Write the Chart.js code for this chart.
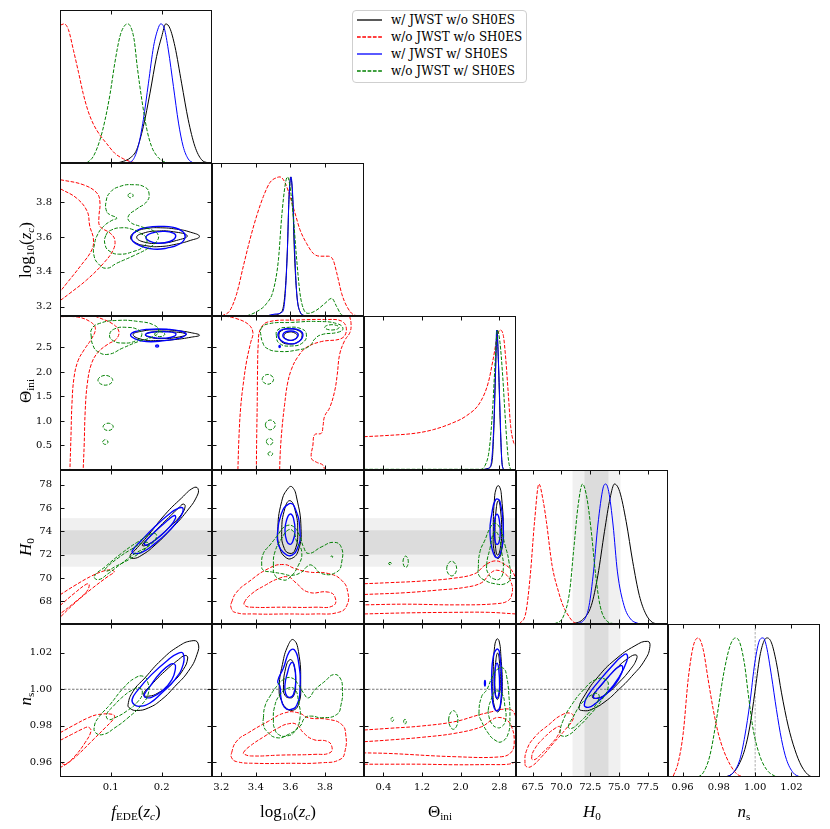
<!DOCTYPE html>
<html>
<head>
<meta charset="utf-8">
<title>Corner plot</title>
<script src="https://cdn.jsdelivr.net/npm/chart.js@4.4.1/dist/chart.umd.min.js"></script>
<style>
html,body{margin:0;padding:0;background:#fff;}
body{width:830px;height:829px;position:relative;overflow:hidden;}
canvas{position:absolute;display:block;}
.ax{position:absolute;font-family:"Liberation Serif","DejaVu Serif",serif;font-size:17px;line-height:1;white-space:nowrap;color:#000;transform:translate(-50%,-50%);}
.ax.rot{transform:translate(-50%,-50%) rotate(-90deg);}
.ax sub{font-size:0.66em;vertical-align:-0.35em;line-height:0;}
.ax i sub{font-style:italic;}
#legend{position:absolute;left:352px;top:10px;width:173px;height:71px;border:1px solid #cfcfcf;border-radius:4px;background:#fff;font-family:"DejaVu Serif",serif;font-size:12px;color:#000;}
#legend .row{position:absolute;left:0;height:16px;width:100%;}
#legend svg{position:absolute;left:4px;top:6px;}
#legend span{position:absolute;left:38px;top:0;line-height:16px;white-space:nowrap;}
</style>
</head>
<body>
<div id="legend"></div>
<script>
// ---------------- axis ranges, ticks, reference values ----------------
const RANGE_FEDE  = [0.0006, 0.2986];
const RANGE_LOGZC = [3.146, 4.027];
const RANGE_THETA = [0.0, 3.1416];
const RANGE_H0    = [66.05, 79.25];
const RANGE_NS    = [0.952, 1.0357];
const RANGE_PDF   = [0, 1.1];
const TICKS_FEDE    = [0.1, 0.2];
const TICKS_LOGZC   = [3.2, 3.4, 3.6, 3.8];
const TICKS_THETA_X = [0.4, 1.2, 2.0, 2.8];
const TICKS_THETA_Y = [0.5, 1.0, 1.5, 2.0, 2.5];
const TICKS_H0_X    = [67.5, 70.0, 72.5, 75.0, 77.5];
const TICKS_H0_Y    = [68, 70, 72, 74, 76, 78];
const TICKS_NS      = [0.96, 0.98, 1.00, 1.02];
const SH0ES_1SIG = [72.00, 74.08];
const SH0ES_2SIG = [70.96, 75.12];
const NS_REF = 1.0;
const SERIES = ['w/ JWST w/o SH0ES', 'w/o JWST w/o SH0ES', 'w/ JWST w/ SH0ES', 'w/o JWST w/ SH0ES'];
const AXIS_TITLES = ['<i>f</i><sub>EDE</sub>(<i>z<sub>c</sub></i>)', 'log<sub>10</sub>(<i>z<sub>c</sub></i>)', 'Θ<sub>ini</sub>', '<i>H</i><sub>0</sub>', '<i>n</i><sub>s</sub>'];

// ---------------- 1D marginals: [value, normalised density] ----------------
const d0_black = [[0.112,0],[0.125,0.012],[0.138,0.036],[0.151,0.096],[0.164,0.263],[0.177,0.502],[0.190,0.766],[0.200,0.909],[0.208,1.0],[0.216,0.969],[0.226,0.837],[0.239,0.574],[0.252,0.311],[0.265,0.12],[0.278,0.024],[0.291,0]];
const d0_red   = [[0.001,0.99],[0.0085,1],[0.017,0.96],[0.027,0.81],[0.037,0.65],[0.046,0.50],[0.056,0.37],[0.066,0.28],[0.079,0.20],[0.092,0.14],[0.108,0.07],[0.125,0.03],[0.144,0.005],[0.164,0]];
const d0_blue  = [[0.131,0],[0.144,0.024],[0.154,0.12],[0.164,0.311],[0.174,0.574],[0.184,0.837],[0.192,0.957],[0.198,1],[0.205,0.969],[0.213,0.813],[0.223,0.55],[0.233,0.287],[0.242,0.12],[0.252,0.029],[0.262,0]];
const d0_green = [[0.053,0],[0.066,0.048],[0.079,0.167],[0.089,0.311],[0.099,0.502],[0.108,0.718],[0.118,0.909],[0.126,0.981],[0.133,1],[0.139,0.98],[0.146,0.885],[0.152,0.694],[0.161,0.455],[0.171,0.239],[0.180,0.12],[0.190,0.053],[0.203,0.012],[0.216,0]];

const d1_black = [[3.444,0],[3.502,0.007],[3.550,0.031],[3.569,0.163],[3.583,0.476],[3.592,0.837],[3.602,1.0],[3.614,0.837],[3.623,0.476],[3.637,0.163],[3.656,0.031],[3.685,0]];
const d1_red   = [[3.202,0],[3.250,0.04],[3.289,0.16],[3.328,0.36],[3.366,0.55],[3.405,0.72],[3.444,0.86],[3.482,0.96],[3.521,0.995],[3.540,1],[3.569,0.96],[3.598,0.86],[3.627,0.74],[3.656,0.62],[3.695,0.52],[3.733,0.45],[3.772,0.43],[3.820,0.43],[3.849,0.40],[3.869,0.31],[3.898,0.16],[3.927,0.07],[3.965,0.01],[4.004,0]];
const d1_blue  = [[3.463,0],[3.511,0.014],[3.556,0.031],[3.571,0.163],[3.583,0.476],[3.592,0.837],[3.604,1.0],[3.615,0.837],[3.625,0.476],[3.637,0.163],[3.656,0.031],[3.685,0]];
const d1_green = [[3.347,0],[3.405,0.031],[3.463,0.091],[3.502,0.188],[3.531,0.404],[3.550,0.716],[3.569,0.933],[3.583,1.0],[3.598,0.933],[3.617,0.716],[3.637,0.404],[3.656,0.163],[3.675,0.055],[3.704,0.019],[3.753,0.043],[3.801,0.091],[3.840,0.127],[3.869,0.067],[3.898,0.007],[3.927,0]];

const d2_black = [[2.43,0],[2.569,0.012],[2.645,0.055],[2.687,0.317],[2.721,0.721],[2.749,1.0],[2.783,0.721],[2.817,0.317],[2.852,0.055],[2.893,0]];
const d2_red   = [[0.0,0.238],[0.40,0.245],[1.09,0.264],[1.43,0.288],[1.78,0.329],[2.12,0.388],[2.40,0.483],[2.57,0.626],[2.67,0.793],[2.76,0.96],[2.81,1.0],[2.88,0.96],[2.93,0.793],[2.98,0.555],[3.03,0.317],[3.09,0.20],[3.14,0.17]];
const d2_blue  = [[2.397,0],[2.535,0.007],[2.618,0.031],[2.673,0.245],[2.714,0.674],[2.742,1.0],[2.776,0.793],[2.810,0.436],[2.845,0.079],[2.880,0]];
const d2_green = [[0.0,0.005],[2.397,0.005],[2.500,0.031],[2.590,0.15],[2.659,0.436],[2.714,0.793],[2.755,1.0],[2.810,0.912],[2.866,0.674],[2.921,0.364],[2.976,0.102],[3.031,0.007],[3.086,0]];

const d3_black = [[70.88,0],[71.83,0.031],[72.59,0.132],[73.16,0.348],[73.73,0.659],[74.22,0.899],[74.60,1.0],[75.05,0.947],[75.62,0.731],[76.19,0.444],[76.76,0.204],[77.32,0.072],[77.89,0.012],[78.46,0]];
const d3_red   = [[66.34,0],[66.91,0.084],[67.29,0.348],[67.66,0.731],[68.04,1.0],[68.42,0.875],[68.69,0.731],[69.18,0.42],[69.75,0.228],[70.13,0.132],[70.51,0.072],[71.07,0.012],[71.64,0]];
const d3_blue  = [[71.26,0],[72.02,0.036],[72.40,0.132],[72.78,0.372],[73.16,0.707],[73.61,0.971],[73.84,1.0],[74.10,0.947],[74.48,0.707],[74.86,0.372],[75.43,0.132],[76.0,0.036],[76.76,0]];
const d3_green = [[69.37,0],[70.13,0.048],[70.70,0.228],[71.07,0.54],[71.45,0.851],[71.83,1.0],[72.21,0.899],[72.59,0.659],[72.97,0.348],[73.35,0.132],[73.91,0.024],[74.67,0]];

const d4_black = [[0.9833,0],[0.9870,0.019],[0.9906,0.079],[0.9943,0.199],[0.9971,0.366],[0.9998,0.605],[1.0026,0.868],[1.0048,0.976],[1.0066,1.0],[1.0090,0.964],[1.0117,0.821],[1.0145,0.605],[1.0182,0.366],[1.0218,0.199],[1.0255,0.079],[1.0301,0.007],[1.0328,0]];
const d4_red   = [[0.9549,0.007],[0.9576,0.103],[0.9604,0.318],[0.9631,0.701],[0.9659,0.940],[0.9686,1.0],[0.9714,0.916],[0.9741,0.701],[0.9769,0.486],[0.9796,0.318],[0.9824,0.199],[0.9861,0.091],[0.9897,0.024],[0.9934,0]];
const d4_blue  = [[0.9842,0],[0.9879,0.031],[0.9916,0.127],[0.9943,0.294],[0.9971,0.533],[0.9998,0.821],[1.0026,0.988],[1.0044,1.0],[1.0062,0.940],[1.0090,0.725],[1.0117,0.486],[1.0145,0.270],[1.0172,0.127],[1.0209,0.031],[1.0246,0]];
const d4_green = [[0.9686,0],[0.9714,0.031],[0.9750,0.151],[0.9787,0.414],[0.9824,0.725],[0.9861,0.940],[0.9892,1.0],[0.9916,0.964],[0.9943,0.797],[0.9961,0.605],[0.9989,0.342],[1.0026,0.151],[1.0062,0.055],[1.0108,0.007],[1.0136,0]];

// ---------------- 2D contours (68% / 95%) ----------------
// fEDE vs log10(zc)
const p10_black_o = [[0.139,3.600],[0.151,3.633],[0.171,3.650],[0.197,3.654],[0.229,3.646],[0.256,3.629],[0.274,3.604],[0.256,3.581],[0.229,3.560],[0.197,3.546],[0.171,3.550],[0.148,3.569]];
const p10_black_i = [[0.151,3.600],[0.164,3.623],[0.190,3.635],[0.223,3.631],[0.250,3.608],[0.229,3.581],[0.197,3.565],[0.164,3.573]];
const p10_red_o = [[0.001,3.931],[0.046,3.902],[0.073,3.854],[0.079,3.796],[0.077,3.719],[0.079,3.662],[0.099,3.623],[0.108,3.585],[0.105,3.527],[0.086,3.450],[0.053,3.354],[0.020,3.277],[0.001,3.235]];
const p10_red_i = [[0.001,3.879],[0.033,3.825],[0.054,3.748],[0.059,3.662],[0.066,3.594],[0.063,3.527],[0.040,3.431],[0.014,3.335],[0.001,3.287]];
const p10_blue_o = [[0.141,3.604],[0.151,3.638],[0.171,3.656],[0.197,3.662],[0.223,3.656],[0.241,3.633],[0.246,3.600],[0.236,3.562],[0.210,3.537],[0.184,3.531],[0.158,3.550],[0.144,3.575]];
const p10_blue_i = [[0.169,3.600],[0.180,3.623],[0.203,3.633],[0.223,3.623],[0.227,3.600],[0.216,3.575],[0.193,3.565],[0.176,3.577]];
const p10_green_o = [[0.092,3.748],[0.091,3.806],[0.099,3.858],[0.118,3.892],[0.144,3.902],[0.167,3.888],[0.175,3.854],[0.171,3.806],[0.151,3.762],[0.135,3.723],[0.137,3.690],[0.158,3.662],[0.180,3.642],[0.193,3.613],[0.190,3.575],[0.174,3.537],[0.144,3.492],[0.112,3.450],[0.092,3.421],[0.076,3.446],[0.067,3.498],[0.068,3.556],[0.074,3.613],[0.086,3.662],[0.102,3.696],[0.112,3.710],[0.099,3.729]];
const p10_green_i = [[0.091,3.613],[0.102,3.642],[0.122,3.654],[0.141,3.646],[0.158,3.623],[0.171,3.588],[0.164,3.546],[0.144,3.517],[0.118,3.502],[0.099,3.517],[0.089,3.556]];
const p10_green_j = [[0.134,3.840],[0.139,3.853],[0.144,3.840],[0.139,3.827]];

// fEDE vs Theta_ini
const p20_black_o = [[0.144,2.76],[0.160,2.83],[0.193,2.86],[0.232,2.84],[0.258,2.80],[0.274,2.75],[0.258,2.71],[0.225,2.66],[0.193,2.64],[0.163,2.66]];
const p20_black_i = [[0.168,2.76],[0.186,2.82],[0.219,2.82],[0.248,2.77],[0.232,2.71],[0.199,2.68],[0.176,2.71]];
const p20_red_o = [[0.001,3.13],[0.036,3.12],[0.062,3.01],[0.070,2.88],[0.062,2.67],[0.049,2.47],[0.036,2.23],[0.028,1.88],[0.024,1.34],[0.022,0.65],[0.020,0.0]];
const p20_red_i = [[0.069,3.14],[0.104,2.98],[0.116,2.83],[0.111,2.67],[0.095,2.57],[0.075,2.40],[0.062,2.16],[0.054,1.75],[0.050,1.20],[0.048,0.51],[0.046,0.0]];
const p20_blue_o = [[0.139,2.76],[0.150,2.83],[0.173,2.87],[0.212,2.87],[0.238,2.83],[0.248,2.77],[0.235,2.69],[0.206,2.64],[0.170,2.62],[0.147,2.68]];
const p20_blue_i = [[0.168,2.76],[0.180,2.81],[0.206,2.82],[0.227,2.79],[0.225,2.73],[0.206,2.69],[0.180,2.71]];
const p20_blue_j = [[0.188,2.53],[0.191,2.55],[0.194,2.53],[0.191,2.51]];
const p20_green_o = [[0.062,2.71],[0.063,2.88],[0.078,2.99],[0.111,3.05],[0.154,3.03],[0.186,2.95],[0.194,2.83],[0.183,2.72],[0.154,2.62],[0.124,2.49],[0.095,2.36],[0.074,2.42],[0.065,2.55]];
const p20_green_i = [[0.098,2.77],[0.108,2.88],[0.131,2.91],[0.154,2.86],[0.161,2.76],[0.150,2.64],[0.124,2.59],[0.103,2.65]];
const p20_green_j = [[0.186,2.77],[0.196,2.82],[0.206,2.77],[0.196,2.72]];
const p20_green_k = [[0.075,1.83],[0.0895,1.93],[0.104,1.83],[0.0895,1.73]];
const p20_green_l = [[0.085,0.88],[0.095,0.955],[0.105,0.88],[0.095,0.805]];
const p20_green_m = [[0.0843,0.57],[0.0895,0.618],[0.0947,0.57],[0.0895,0.522]];

// log10(zc) vs Theta_ini
const p21_black_o = [[3.534,2.74],[3.548,2.84],[3.596,2.88],[3.654,2.83],[3.668,2.74],[3.648,2.62],[3.596,2.57],[3.548,2.62]];
const p21_black_i = [[3.563,2.74],[3.586,2.81],[3.629,2.79],[3.640,2.72],[3.615,2.65],[3.577,2.67]];
const p21_red_a = [[3.296,0.0],[3.302,0.65],[3.312,1.27],[3.327,1.75],[3.347,2.23],[3.370,2.60],[3.383,2.81],[3.354,2.98],[3.277,3.10],[3.219,3.14]];
const p21_red_b = [[3.944,3.14],[3.952,2.98],[3.946,2.81],[3.915,2.64],[3.886,2.36],[3.872,1.95],[3.857,1.61],[3.828,1.27],[3.799,1.10],[3.789,0.89],[3.780,0.75],[3.741,0.72],[3.731,0.51],[3.722,0.24],[3.751,0.16],[3.789,0.10],[3.799,0.0]];
const p21_red_i = [[3.403,0.0],[3.405,0.65],[3.408,1.34],[3.410,2.02],[3.414,2.57],[3.425,2.86],[3.470,3.02],[3.644,3.06],[3.799,3.07],[3.896,3.04],[3.925,2.88],[3.900,2.69],[3.780,2.62],[3.693,2.50],[3.640,2.29],[3.606,2.05],[3.583,1.75],[3.567,1.34],[3.552,0.86],[3.542,0.38],[3.538,0.0]];
const p21_blue_o = [[3.528,2.75],[3.544,2.85],[3.596,2.88],[3.654,2.85],[3.673,2.74],[3.644,2.61],[3.586,2.58],[3.544,2.65]];
const p21_blue_i = [[3.557,2.76],[3.586,2.83],[3.635,2.81],[3.644,2.73],[3.615,2.65],[3.573,2.67]];
const p21_blue_j = [[3.534,2.52],[3.538,2.54],[3.542,2.52],[3.538,2.50]];
const p21_green_o = [[3.430,2.88],[3.470,2.98],[3.606,3.01],[3.760,3.03],[3.876,2.98],[3.905,2.88],[3.876,2.81],[3.780,2.76],[3.741,2.67],[3.712,2.53],[3.644,2.45],[3.528,2.42],[3.461,2.49],[3.440,2.60],[3.430,2.74]];
const p21_green_i = [[3.519,2.74],[3.528,2.86],[3.586,2.91],[3.664,2.88],[3.693,2.77],[3.673,2.60],[3.606,2.53],[3.538,2.58]];
const p21_green_j = [[3.799,2.91],[3.841,2.965],[3.883,2.91],[3.841,2.855]];
const p21_green_k = [[3.437,1.85],[3.470,1.95],[3.503,1.85],[3.470,1.75]];
const p21_green_l = [[3.455,0.92],[3.484,1.02],[3.513,0.92],[3.484,0.82]];
const p21_green_m = [[3.461,0.58],[3.480,0.648],[3.499,0.58],[3.480,0.512]];
const p21_green_n = [[3.4705,0.33],[3.484,0.37],[3.4975,0.33],[3.484,0.29]];

// fEDE vs H0
const p30_black_o = [[0.138,71.90],[0.148,72.39],[0.174,73.68],[0.206,75.41],[0.239,76.85],[0.262,77.72],[0.271,77.66],[0.269,77.0],[0.249,75.70],[0.220,74.26],[0.187,72.82],[0.161,71.95],[0.144,71.67]];
const p30_black_i = [[0.162,72.82],[0.180,73.68],[0.206,74.84],[0.233,75.99],[0.242,76.33],[0.246,76.13],[0.238,75.41],[0.213,74.26],[0.187,73.25],[0.167,72.76]];
const p30_red_o = [[0.0006,68.55],[0.030,69.36],[0.0627,70.17],[0.089,70.63],[0.103,70.66],[0.107,70.51],[0.095,70.14],[0.0627,69.07],[0.030,67.86],[0.0006,66.62]];
const p30_red_i = [[0.0006,67.63],[0.030,68.73],[0.053,69.48],[0.058,69.42],[0.053,68.84],[0.030,67.92],[0.0006,66.91]];
const p30_blue_o = [[0.142,72.30],[0.161,73.25],[0.187,74.40],[0.213,75.41],[0.233,75.99],[0.242,75.93],[0.236,75.18],[0.213,73.97],[0.187,72.96],[0.161,72.18],[0.146,72.10]];
const p30_blue_i = [[0.166,72.96],[0.187,73.97],[0.213,74.98],[0.225,75.35],[0.227,75.12],[0.216,74.40],[0.193,73.45],[0.172,72.82]];
const p30_green_o = [[0.068,70.14],[0.089,70.95],[0.121,72.10],[0.154,73.11],[0.184,73.83],[0.190,73.54],[0.177,72.82],[0.148,72.10],[0.121,71.23],[0.095,70.37],[0.0758,69.85]];
const p30_green_i = [[0.089,70.74],[0.115,71.72],[0.141,72.47],[0.166,73.05],[0.175,72.90],[0.162,72.30],[0.136,71.58],[0.108,70.95],[0.092,70.57]];

// log10(zc) vs H0
const p31_black_o = [[3.527,73.97],[3.550,76.56],[3.589,77.72],[3.612,77.78],[3.637,76.85],[3.662,74.26],[3.647,72.39],[3.608,71.67],[3.569,71.81],[3.540,72.53]];
const p31_black_i = [[3.550,73.97],[3.569,75.99],[3.598,76.62],[3.627,75.84],[3.643,73.97],[3.627,72.39],[3.598,72.10],[3.565,72.53]];
const p31_red_o = [[3.260,67.92],[3.289,68.78],[3.357,69.65],[3.473,70.80],[3.560,71.15],[3.627,70.80],[3.705,70.51],[3.821,70.37],[3.898,69.79],[3.933,68.78],[3.927,67.63],[3.879,67.05],[3.743,66.91],[3.589,66.91],[3.395,66.91],[3.279,67.05],[3.256,67.49]];
const p31_red_i = [[3.334,67.92],[3.376,68.64],[3.453,69.36],[3.531,69.94],[3.589,70.08],[3.627,69.65],[3.705,68.78],[3.821,68.78],[3.859,68.35],[3.850,67.63],[3.743,67.49],[3.550,67.49],[3.376,67.49],[3.337,67.63]];
const p31_blue_o = [[3.525,73.68],[3.546,75.41],[3.589,76.33],[3.623,76.13],[3.656,73.97],[3.637,72.39],[3.598,71.90],[3.560,72.18],[3.531,72.82]];
const p31_blue_i = [[3.569,74.12],[3.579,74.98],[3.598,75.47],[3.618,75.12],[3.627,73.97],[3.612,73.05],[3.598,72.88],[3.579,73.16]];
const p31_green_o = [[3.434,71.09],[3.444,72.10],[3.482,72.82],[3.521,73.54],[3.569,74.40],[3.618,74.40],[3.656,73.54],[3.676,72.67],[3.705,72.10],[3.782,72.67],[3.850,73.05],[3.894,72.67],[3.898,71.38],[3.869,70.51],[3.782,70.37],[3.724,71.09],[3.695,70.95],[3.666,70.51],[3.608,70.22],[3.550,70.37],[3.492,70.51],[3.444,70.66]];
const p31_green_i = [[3.502,71.09],[3.511,72.24],[3.550,73.39],[3.589,74.12],[3.618,73.97],[3.637,73.11],[3.666,72.24],[3.647,71.09],[3.589,69.94],[3.550,69.85],[3.511,70.22]];
const p31_green_j = [[3.834,71.81],[3.840,71.88],[3.846,71.81],[3.840,71.74]];

// Theta_ini vs H0
const p32_black_o = [[2.673,73.97],[2.693,76.56],[2.742,77.78],[2.796,77.86],[2.845,76.85],[2.879,73.97],[2.845,72.39],[2.776,71.67],[2.693,72.24]];
const p32_black_i = [[2.707,73.97],[2.735,75.99],[2.776,76.62],[2.817,75.99],[2.845,73.97],[2.817,72.53],[2.762,71.95],[2.721,72.53]];
const p32_red_a = [[0.0005,69.50],[0.503,69.59],[1.192,69.73],[1.880,69.99],[2.294,70.37],[2.500,71.09],[2.707,71.46],[2.879,71.23],[3.051,70.66],[3.141,69.94]];
const p32_red_b = [[0.0005,66.91],[0.847,67.0],[1.880,67.05],[2.569,67.05],[3.141,66.91]];
const p32_red_i = [[0.0005,68.58],[0.847,68.73],[1.536,68.96],[2.087,69.19],[2.431,69.59],[2.604,70.37],[2.742,70.66],[2.914,70.37],[3.038,69.65],[3.065,68.78],[2.983,68.06],[2.707,67.78],[1.880,67.69],[0.847,67.75],[0.0005,67.69]];
const p32_blue_o = [[2.604,73.97],[2.638,75.41],[2.721,76.71],[2.810,76.56],[2.879,74.26],[2.845,72.53],[2.755,71.72],[2.652,72.39]];
const p32_blue_i = [[2.693,74.26],[2.707,75.12],[2.748,75.47],[2.790,75.12],[2.817,73.97],[2.790,73.05],[2.742,72.88],[2.707,73.25]];
const p32_green_o = [[2.362,70.80],[2.397,72.24],[2.500,73.25],[2.604,74.26],[2.693,74.69],[2.810,74.26],[2.914,72.82],[2.996,71.38],[3.017,69.94],[2.914,69.50],[2.707,69.50],[2.500,69.79],[2.376,70.22]];
const p32_green_i = [[2.535,71.09],[2.604,72.53],[2.693,73.97],[2.776,73.68],[2.845,72.24],[2.879,70.80],[2.810,69.94],[2.673,69.94],[2.569,70.37]];
const p32_green_j = [[0.508,71.23],[0.538,71.33],[0.568,71.23],[0.538,71.13]];
const p32_green_k = [[0.806,71.38],[0.861,71.87],[0.916,71.38],[0.861,70.89]];
const p32_green_l = [[1.709,70.80],[1.812,71.43],[1.915,70.80],[1.812,70.17]];

// fEDE vs n_s
const p40_black_o = [[0.134,0.9916],[0.144,0.9989],[0.167,1.0062],[0.200,1.0162],[0.233,1.0235],[0.259,1.0265],[0.271,1.0253],[0.269,1.0189],[0.252,1.0098],[0.226,1.0016],[0.200,0.9944],[0.174,0.9898],[0.151,0.9884],[0.138,0.9895]];
const p40_black_i = [[0.164,0.9971],[0.180,1.0025],[0.206,1.0098],[0.233,1.0162],[0.246,1.0185],[0.251,1.0171],[0.242,1.0107],[0.220,1.0035],[0.193,0.9980],[0.174,0.9962]];
const p40_red_o = [[0.0006,0.9762],[0.030,0.9807],[0.056,0.9844],[0.0758,0.9862],[0.105,0.9862],[0.107,0.9844],[0.089,0.9789],[0.0627,0.9716],[0.0366,0.9644],[0.017,0.9598],[0.0006,0.9571]];
const p40_red_i = [[0.0006,0.9720],[0.0235,0.9753],[0.0464,0.9785],[0.056,0.9793],[0.0614,0.9771],[0.0496,0.9707],[0.030,0.9635],[0.0104,0.9589],[0.0006,0.9604]];
const p40_blue_o = [[0.142,0.9944],[0.154,0.9998],[0.180,1.0080],[0.213,1.0162],[0.233,1.0198],[0.242,1.0195],[0.242,1.0135],[0.226,1.0053],[0.200,0.9980],[0.177,0.9925],[0.157,0.9907],[0.146,0.9916]];
const p40_blue_i = [[0.166,0.9971],[0.177,1.0016],[0.197,1.0089],[0.216,1.0135],[0.225,1.0138],[0.227,1.0116],[0.220,1.0053],[0.200,0.9989],[0.180,0.9956],[0.168,0.9956]];
const p40_green_o = [[0.068,0.9798],[0.0758,0.9844],[0.0986,0.9916],[0.125,1.0007],[0.148,1.0062],[0.164,1.0071],[0.172,1.0044],[0.174,0.9980],[0.161,0.9916],[0.134,0.9844],[0.108,0.9789],[0.0856,0.9753],[0.0705,0.9762]];
const p40_green_i = [[0.092,0.9862],[0.105,0.9907],[0.125,0.9962],[0.144,0.9998],[0.157,1.0007],[0.162,0.9980],[0.154,0.9935],[0.131,0.9880],[0.108,0.9844],[0.0954,0.9835]];

// log10(zc) vs n_s
const p41_black_o = [[3.535,0.9998],[3.554,1.0135],[3.589,1.0244],[3.618,1.0271],[3.647,1.0207],[3.660,1.0025],[3.647,0.9916],[3.612,0.9884],[3.579,0.9895],[3.550,0.9935]];
const p41_black_i = [[3.560,1.0007],[3.573,1.0116],[3.598,1.0162],[3.620,1.0135],[3.631,1.0025],[3.618,0.9962],[3.593,0.9953],[3.569,0.9967]];
const p41_red_o = [[3.260,0.9653],[3.289,0.9716],[3.357,0.9762],[3.473,0.9825],[3.569,0.9871],[3.647,0.9871],[3.705,0.9844],[3.821,0.9835],[3.898,0.9807],[3.921,0.9753],[3.917,0.9662],[3.888,0.9616],[3.782,0.9598],[3.589,0.9595],[3.395,0.9595],[3.289,0.9604],[3.260,0.9625]];
const p41_red_i = [[3.328,0.9653],[3.366,0.9689],[3.453,0.9744],[3.531,0.9789],[3.589,0.9811],[3.637,0.9807],[3.676,0.9762],[3.734,0.9725],[3.811,0.9716],[3.840,0.9689],[3.830,0.9653],[3.743,0.9644],[3.550,0.9640],[3.376,0.9635],[3.334,0.9644]];
const p41_blue_o = [[3.527,1.0044],[3.560,1.0116],[3.595,1.0207],[3.623,1.0216],[3.647,1.0153],[3.656,1.0007],[3.637,0.9913],[3.598,0.9889],[3.565,0.9902],[3.546,0.9953],[3.540,1.0016]];
const p41_blue_i = [[3.569,1.0025],[3.583,1.0089],[3.604,1.0144],[3.622,1.0135],[3.631,1.0044],[3.618,0.9971],[3.593,0.9956],[3.573,0.9975]];
const p41_green_o = [[3.444,0.9844],[3.453,0.9907],[3.482,0.9962],[3.521,1.0016],[3.560,1.0053],[3.608,1.0062],[3.647,1.0025],[3.676,0.9980],[3.705,0.9953],[3.743,0.9998],[3.801,1.0044],[3.850,1.0080],[3.888,1.0062],[3.902,0.9998],[3.894,0.9916],[3.869,0.9862],[3.782,0.9844],[3.724,0.9853],[3.685,0.9844],[3.656,0.9798],[3.589,0.9753],[3.521,0.9735],[3.463,0.9771],[3.444,0.9807]];
const p41_green_i = [[3.502,0.9825],[3.507,0.9898],[3.540,0.9971],[3.589,1.0007],[3.627,0.9998],[3.647,0.9935],[3.656,0.9844],[3.627,0.9771],[3.579,0.9744],[3.531,0.9753],[3.507,0.9789]];

// Theta_ini vs n_s
const p42_black_o = [[2.672,1.0106],[2.693,1.0216],[2.741,1.0274],[2.789,1.0267],[2.830,1.0179],[2.858,1.0015],[2.830,0.9923],[2.775,0.9877],[2.707,0.9896],[2.665,0.9978]];
const p42_black_i = [[2.707,1.0070],[2.727,1.0161],[2.762,1.0198],[2.796,1.0161],[2.817,1.0033],[2.789,0.9960],[2.748,0.9945],[2.714,0.9987]];
const p42_red_a = [[0.0,0.9777],[0.503,0.9786],[1.191,0.9799],[1.880,0.9823],[2.362,0.9859],[2.638,0.9877],[2.844,0.9890],[3.051,0.9887],[3.140,0.9850]];
const p42_red_b = [[0.0,0.9590],[0.503,0.9590],[1.191,0.9590],[1.880,0.9587],[2.569,0.9588],[2.982,0.9590],[3.140,0.9603]];
const p42_red_i = [[0.0,0.9713],[0.503,0.9722],[1.191,0.9737],[1.880,0.9759],[2.431,0.9795],[2.638,0.9832],[2.775,0.9846],[2.948,0.9832],[3.051,0.9795],[3.106,0.9722],[3.051,0.9658],[2.844,0.9631],[1.880,0.9631],[0.503,0.9649],[0.0,0.9652]];
const p42_blue_o = [[2.638,1.0070],[2.672,1.0179],[2.741,1.0219],[2.796,1.0207],[2.844,1.0051],[2.824,0.9923],[2.762,0.9883],[2.686,0.9901],[2.645,0.9978]];
const p42_blue_i = [[2.693,1.0051],[2.714,1.0115],[2.748,1.0143],[2.782,1.0115],[2.803,1.0015],[2.775,0.9960],[2.741,0.9952],[2.707,0.9978]];
const p42_blue_j = [[2.490,1.0033],[2.500,1.0048],[2.510,1.0033],[2.500,1.0018]];
const p42_green_o = [[2.376,0.9868],[2.431,0.9960],[2.534,0.9996],[2.638,1.0060],[2.741,1.0106],[2.879,1.0115],[2.948,1.0070],[2.996,0.9960],[3.016,0.9850],[2.982,0.9759],[2.844,0.9713],[2.707,0.9722],[2.569,0.9759],[2.417,0.9832]];
const p42_green_i = [[2.569,0.9887],[2.624,0.9941],[2.707,0.9987],[2.844,0.9978],[2.913,0.9905],[2.927,0.9832],[2.844,0.9795],[2.741,0.9791],[2.638,0.9813],[2.583,0.9850]];
const p42_green_j = [[0.557,0.9835],[0.585,0.9846],[0.613,0.9835],[0.585,0.9824]];
const p42_green_k = [[0.819,0.9823],[0.847,0.9836],[0.875,0.9823],[0.847,0.9810]];
const p42_green_l = [[1.750,0.9832],[1.846,0.9883],[1.942,0.9832],[1.846,0.9781]];

// H0 vs n_s
const p43_black_o = [[71.52,0.9896],[72.04,0.9969],[73.20,1.0070],[74.64,1.0161],[76.38,1.0238],[77.48,1.0262],[77.68,1.0234],[77.25,1.0161],[76.09,1.0070],[74.93,0.9996],[73.78,0.9932],[72.62,0.9890],[71.90,0.9883]];
const p43_black_i = [[72.68,0.9960],[73.49,1.0024],[74.64,1.0106],[75.80,1.0170],[76.47,1.0188],[76.52,1.0165],[75.95,1.0106],[74.93,1.0033],[74.06,0.9982],[73.14,0.9951]];
const p43_red_o = [[66.83,0.9594],[66.98,0.9667],[67.70,0.9740],[68.86,0.9804],[70.01,0.9859],[70.82,0.9868],[71.03,0.9841],[70.30,0.9777],[69.29,0.9704],[68.28,0.9631],[67.41,0.9579],[66.98,0.9576]];
const p43_red_i = [[67.41,0.9621],[67.70,0.9676],[68.57,0.9740],[69.44,0.9786],[69.87,0.9795],[69.78,0.9759],[69.15,0.9704],[68.28,0.9649],[67.70,0.9616]];
const p43_blue_o = [[71.98,0.9914],[72.33,0.9969],[73.34,1.0051],[74.50,1.0134],[75.22,1.0179],[75.66,1.0192],[75.66,1.0152],[74.93,1.0060],[73.92,0.9978],[72.91,0.9920],[72.33,0.9901]];
const p43_blue_i = [[72.76,0.9960],[73.34,1.0015],[74.35,1.0088],[75.08,1.0128],[75.31,1.0124],[75.22,1.0088],[74.64,1.0024],[73.78,0.9969],[73.14,0.9951]];
const p43_green_o = [[69.87,0.9759],[70.16,0.9832],[70.88,0.9914],[71.90,0.9996],[72.91,1.0051],[73.78,1.0055],[74.06,1.0015],[73.49,0.9941],[72.33,0.9850],[71.32,0.9786],[70.59,0.9749],[70.07,0.9744]];
const p43_green_i = [[70.59,0.9795],[71.03,0.9850],[71.75,0.9923],[72.62,0.9969],[73.20,0.9974],[73.14,0.9932],[72.33,0.9868],[71.46,0.9813],[70.88,0.9786]];

// ---------------- layout & styles ----------------
const COLS = [60, 212, 364, 516, 668, 820];
const ROWS = [10, 163, 316, 470, 624, 777];
const PARAMS = [
  {range: RANGE_FEDE,  xt: TICKS_FEDE,    yt: TICKS_FEDE,    xdec: 1, ydec: 1},
  {range: RANGE_LOGZC, xt: TICKS_LOGZC,   yt: TICKS_LOGZC,   xdec: 1, ydec: 1},
  {range: RANGE_THETA, xt: TICKS_THETA_X, yt: TICKS_THETA_Y, xdec: 1, ydec: 1},
  {range: RANGE_H0,    xt: TICKS_H0_X,    yt: TICKS_H0_Y,    xdec: 1, ydec: 0},
  {range: RANGE_NS,    xt: TICKS_NS,      yt: TICKS_NS,      xdec: 2, ydec: 2},
];
const STY = {
  K: {c: '#000000', w: 1.0, w2: 1.0, d: []},
  R: {c: '#ff0000', w: 1.0, w2: 1.0, d: [3.7, 1.6]},
  B: {c: '#0000ff', w: 1.0, w2: 1.35, d: []},
  G: {c: '#008000', w: 1.0, w2: 1.0, d: [3.7, 1.6]},
};
// [style, data, closed]
const PANELS = [
  {r:0,c:0,diag:true,sets:[['K',d0_black],['R',d0_red],['B',d0_blue],['G',d0_green]]},
  {r:1,c:1,diag:true,sets:[['K',d1_black],['R',d1_red],['B',d1_blue],['G',d1_green]]},
  {r:2,c:2,diag:true,sets:[['K',d2_black],['R',d2_red],['B',d2_blue],['G',d2_green]]},
  {r:3,c:3,diag:true,vband:true,sets:[['K',d3_black],['R',d3_red],['B',d3_blue],['G',d3_green]]},
  {r:4,c:4,diag:true,vref:true,sets:[['K',d4_black],['R',d4_red],['B',d4_blue],['G',d4_green]]},
  {r:1,c:0,sets:[['K',p10_black_o,1],['K',p10_black_i,1],['R',p10_red_o,0],['R',p10_red_i,0],['B',p10_blue_o,1],['B',p10_blue_i,1],['G',p10_green_o,1],['G',p10_green_i,1],['G',p10_green_j,1]]},
  {r:2,c:0,sets:[['K',p20_black_o,1],['K',p20_black_i,1],['R',p20_red_o,0],['R',p20_red_i,0],['B',p20_blue_o,1],['B',p20_blue_i,1],['B',p20_blue_j,1],['G',p20_green_o,1],['G',p20_green_i,1],['G',p20_green_j,1],['G',p20_green_k,1],['G',p20_green_l,1],['G',p20_green_m,1]]},
  {r:2,c:1,sets:[['K',p21_black_o,1],['K',p21_black_i,1],['R',p21_red_a,0],['R',p21_red_b,0],['R',p21_red_i,0],['B',p21_blue_o,1],['B',p21_blue_i,1],['B',p21_blue_j,1],['G',p21_green_o,1],['G',p21_green_i,1],['G',p21_green_j,1],['G',p21_green_k,1],['G',p21_green_l,1],['G',p21_green_m,1],['G',p21_green_n,1]]},
  {r:3,c:0,hband:true,sets:[['K',p30_black_o,1],['K',p30_black_i,1],['R',p30_red_o,0],['R',p30_red_i,0],['B',p30_blue_o,1],['B',p30_blue_i,1],['G',p30_green_o,1],['G',p30_green_i,1]]},
  {r:3,c:1,hband:true,sets:[['K',p31_black_o,1],['K',p31_black_i,1],['R',p31_red_o,1],['R',p31_red_i,1],['B',p31_blue_o,1],['B',p31_blue_i,1],['G',p31_green_o,1],['G',p31_green_i,1],['G',p31_green_j,1]]},
  {r:3,c:2,hband:true,sets:[['K',p32_black_o,1],['K',p32_black_i,1],['R',p32_red_a,0],['R',p32_red_b,0],['R',p32_red_i,0],['B',p32_blue_o,1],['B',p32_blue_i,1],['G',p32_green_o,1],['G',p32_green_i,1],['G',p32_green_j,1],['G',p32_green_k,1],['G',p32_green_l,1]]},
  {r:4,c:0,href:true,sets:[['K',p40_black_o,1],['K',p40_black_i,1],['R',p40_red_o,0],['R',p40_red_i,0],['B',p40_blue_o,1],['B',p40_blue_i,1],['G',p40_green_o,1],['G',p40_green_i,1]]},
  {r:4,c:1,href:true,sets:[['K',p41_black_o,1],['K',p41_black_i,1],['R',p41_red_o,1],['R',p41_red_i,1],['B',p41_blue_o,1],['B',p41_blue_i,1],['G',p41_green_o,1],['G',p41_green_i,1]]},
  {r:4,c:2,href:true,sets:[['K',p42_black_o,1],['K',p42_black_i,1],['R',p42_red_a,0],['R',p42_red_b,0],['R',p42_red_i,0],['B',p42_blue_o,1],['B',p42_blue_i,1],['B',p42_blue_j,1],['G',p42_green_o,1],['G',p42_green_i,1],['G',p42_green_j,1],['G',p42_green_k,1],['G',p42_green_l,1]]},
  {r:4,c:3,href:true,vband:true,sets:[['K',p43_black_o,1],['K',p43_black_i,1],['R',p43_red_o,1],['R',p43_red_i,1],['B',p43_blue_o,1],['B',p43_blue_i,1],['G',p43_green_o,1],['G',p43_green_i,1]]},
];

// close contour lines smoothly (uses Chart.js line element's loop mode)
Chart.register({
  id: 'loopLines',
  afterDatasetsUpdate(chart) {
    chart.data.datasets.forEach((ds, i) => {
      if (!ds.closedLoop) return;
      const line = chart.getDatasetMeta(i).dataset;
      if (!line) return;
      line._loop = true; line._fullLoop = true;
      line._pointsUpdated = false; line._segments = undefined; line._path = undefined;
    });
  }
});

function framePlugin(spec) {
  return {
    id: 'frame',
    beforeDatasetsDraw(chart) {
      const {ctx, chartArea: a} = chart; const xs = chart.scales.x, ys = chart.scales.y;
      ctx.save(); ctx.beginPath(); ctx.rect(a.left, a.top, a.width, a.height); ctx.clip();
      const bands = [[SH0ES_2SIG, '#f0f0f0'], [SH0ES_1SIG, '#dcdcdc']];
      if (spec.hband) bands.forEach(([b, col]) => {
        const y1 = ys.getPixelForValue(b[0]), y2 = ys.getPixelForValue(b[1]);
        ctx.fillStyle = col; ctx.fillRect(a.left, Math.min(y1, y2), a.width, Math.abs(y1 - y2));
      });
      if (spec.vband) bands.forEach(([b, col]) => {
        const x1 = xs.getPixelForValue(b[0]), x2 = xs.getPixelForValue(b[1]);
        ctx.fillStyle = col; ctx.fillRect(Math.min(x1, x2), a.top, Math.abs(x2 - x1), a.height);
      });
      if (spec.href) {
        const y = ys.getPixelForValue(NS_REF);
        ctx.strokeStyle = '#555'; ctx.lineWidth = 0.8; ctx.setLineDash([2.5, 1.5]);
        ctx.beginPath(); ctx.moveTo(a.left, y); ctx.lineTo(a.right, y); ctx.stroke();
      }
      if (spec.vref) {
        const x = xs.getPixelForValue(NS_REF);
        ctx.strokeStyle = '#999'; ctx.lineWidth = 0.8; ctx.setLineDash([2.5, 1.5]);
        ctx.beginPath(); ctx.moveTo(x, a.top); ctx.lineTo(x, a.bottom); ctx.stroke();
      }
      ctx.restore();
    },
    afterDatasetsDraw(chart) {
      const {ctx, chartArea: a} = chart; const xs = chart.scales.x, ys = chart.scales.y;
      ctx.save();
      ctx.strokeStyle = '#111'; ctx.lineWidth = 1; ctx.setLineDash([]);
      const tl = 4.5;
      ctx.beginPath();
      spec.xt.forEach(v => {
        const x = Math.round(xs.getPixelForValue(v)) + 0.5;
        ctx.moveTo(x, a.bottom); ctx.lineTo(x, a.bottom - tl);
        ctx.moveTo(x, a.top); ctx.lineTo(x, a.top + tl);
      });
      spec.yt.forEach(v => {
        const y = Math.round(ys.getPixelForValue(v)) + 0.5;
        ctx.moveTo(a.left, y); ctx.lineTo(a.left + tl, y);
        ctx.moveTo(a.right, y); ctx.lineTo(a.right - tl, y);
      });
      ctx.stroke();
      ctx.strokeRect(a.left + 0.5, a.top + 0.5, a.width - 1, a.height - 1);
      ctx.restore();
    }
  };
}

function zeroPad(s) { s.paddingTop = 0; s.paddingBottom = 0; s.paddingLeft = 0; s.paddingRight = 0; }

function makePanel(p) {
  const L = COLS[p.c], T = ROWS[p.r], W = COLS[p.c + 1] - L, H = ROWS[p.r + 1] - T;
  const hasY = p.c === 0 && p.r > 0;
  const hasX = p.r === 4;
  const yw = hasY ? L : 0, xh = hasX ? 28 : 0;
  const cv = document.createElement('canvas');
  cv.width = W + yw; cv.height = H + xh;
  cv.style.left = (L - yw) + 'px'; cv.style.top = T + 'px';
  cv.style.width = (W + yw) + 'px'; cv.style.height = (H + xh) + 'px';
  document.body.appendChild(cv);
  const xp = PARAMS[p.c];
  const yp = p.diag ? null : PARAMS[p.r];
  const datasets = p.sets.map(([s, pts, closed]) => {
    const st = STY[s];
    return {
      data: pts.map(([x, y]) => ({x, y})),
      borderColor: st.c, borderWidth: p.diag ? st.w : st.w2, borderDash: st.d,
      pointRadius: 0, pointHoverRadius: 0, fill: false,
      tension: p.diag ? 0 : (closed ? 0.5 : 0.4),
      cubicInterpolationMode: p.diag ? 'monotone' : 'default',
      closedLoop: !!closed, clip: 0, borderCapStyle: 'butt', borderJoinStyle: 'round'
    };
  }).reverse();
  const tickFont = {family: 'DejaVu Serif', size: 10};
  new Chart(cv, {
    type: 'line',
    data: {datasets},
    options: {
      responsive: false, animation: false, events: [],
      layout: {padding: 0},
      plugins: {legend: {display: false}, tooltip: {enabled: false}},
      scales: {
        x: {
          type: 'linear', min: xp.range[0], max: xp.range[1], display: hasX,
          grid: {display: false, drawTicks: false}, border: {display: false},
          ticks: {font: tickFont, color: '#000', padding: 4, maxRotation: 0, autoSkip: false,
                  callback: v => Number(v).toFixed(xp.xdec)},
          afterBuildTicks: s => { s.ticks = xp.xt.map(v => ({value: v})); },
          afterFit: s => { if (hasX) s.height = xh; zeroPad(s); }
        },
        y: {
          type: 'linear', min: p.diag ? RANGE_PDF[0] : yp.range[0], max: p.diag ? RANGE_PDF[1] : yp.range[1],
          display: hasY,
          grid: {display: false, drawTicks: false}, border: {display: false},
          ticks: {font: tickFont, color: '#000', padding: 8, autoSkip: false,
                  callback: v => Number(v).toFixed(yp ? yp.ydec : 1)},
          afterBuildTicks: s => { s.ticks = (yp ? yp.yt : []).map(v => ({value: v})); },
          afterFit: s => { if (hasY) s.width = yw; zeroPad(s); }
        }
      }
    },
    plugins: [framePlugin({xt: xp.xt, yt: yp ? yp.yt : [], hband: p.hband, vband: p.vband, href: p.href, vref: p.vref})]
  });
}
PANELS.forEach(makePanel);

// axis titles
const XT_Y = 811;
AXIS_TITLES.forEach((t, c) => {
  const d = document.createElement('div'); d.className = 'ax'; d.innerHTML = t;
  d.style.left = ((COLS[c] + COLS[c + 1]) / 2) + 'px'; d.style.top = XT_Y + 'px';
  document.body.appendChild(d);
});
const YT_POS = [null, 250, 391, 547, 699];
AXIS_TITLES.forEach((t, r) => {
  if (r === 0) return;
  const d = document.createElement('div'); d.className = 'ax rot'; d.innerHTML = t;
  d.style.left = '25px'; d.style.top = YT_POS[r] + 'px';
  document.body.appendChild(d);
});

// legend
const LEG = document.getElementById('legend');
const LEG_STY = ['K', 'R', 'B', 'G'];
SERIES.forEach((name, i) => {
  const st = STY[LEG_STY[i]];
  const row = document.createElement('div'); row.className = 'row'; row.style.top = (1 + 17 * i) + 'px';
  row.innerHTML = '<svg width="26" height="4"><line x1="0" y1="2" x2="25" y2="2" stroke="' + st.c +
    '" stroke-width="1.3"' + (st.d.length ? ' stroke-dasharray="' + st.d.join(',') + '"' : '') + '/></svg><span>' + name + '</span>';
  LEG.appendChild(row);
});
</script>
</body>
</html>
